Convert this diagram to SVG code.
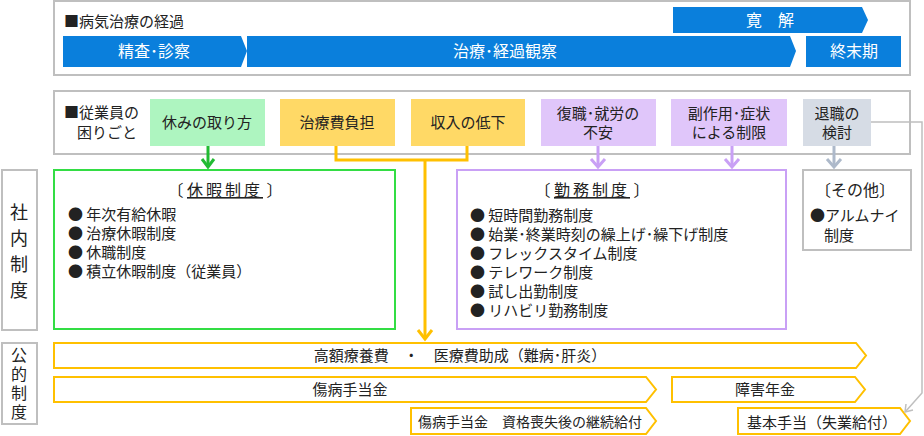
<svg xmlns="http://www.w3.org/2000/svg" width="924" height="436" viewBox="0 0 924 436">
<style>
text{font-family:"Noto Sans CJK JP","Noto Sans",sans-serif;font-size:15px;fill:#222}
.w{fill:#fff;font-size:16px}
.s{font-size:18px}
.s2{font-size:16px}
.frame{fill:#fff;stroke:#bfbfbf;stroke-width:2}
.blue{fill:#0a7fdc}
.ob{fill:#fff;stroke:#ffc000;stroke-width:2}
.m{text-anchor:middle}
</style>
<rect width="924" height="436" fill="#fff"/>
<g id="course">
<rect class="frame" x="54" y="1" width="856" height="74"/>
<text x="64" y="27">■病気治療の経過</text>
<polygon class="blue" points="673,7 862,7 868,20 862,33 673,33"/>
<text class="w m" x="770" y="26">寛　解</text>
<polygon class="blue" points="63,36 241,36 247,51 241,67 63,67"/>
<text class="w m" x="154" y="57">精査･診察</text>
<polygon class="blue" points="247,36 790,36 796,51 790,67 247,67"/>
<text class="w m" x="505" y="57">治療･経過観察</text>
<rect class="blue" x="806" y="36" width="95" height="31"/>
<text class="w m" x="854" y="57">終末期</text>
</g>
<g id="troubles">
<rect class="frame" x="54" y="91" width="856" height="63"/>
<text x="64" y="118">■従業員の</text>
<text x="77" y="138">困りごと</text>
<g id="t1"><rect x="150" y="99" width="115" height="47" fill="#aef5c0"/><text class="m" x="207" y="128">休みの取り方</text></g>
<g id="t2"><rect x="280" y="99" width="115" height="47" fill="#ffd966"/><text class="m" x="337" y="128">治療費負担</text></g>
<g id="t3"><rect x="411" y="99" width="114" height="47" fill="#ffd966"/><text class="m" x="468" y="128">収入の低下</text></g>
<g id="t4"><rect x="541" y="99" width="115" height="47" fill="#e0c6fa"/><text class="m" x="598" y="119">復職･就労の</text><text class="m" x="598" y="138">不安</text></g>
<g id="t5"><rect x="671" y="99" width="116" height="47" fill="#e0c6fa"/><text class="m" x="729" y="119">副作用･症状</text><text class="m" x="729" y="138">による制限</text></g>
<g id="t6"><rect x="803" y="99" width="68" height="47" fill="#d6dce5"/><text class="m" x="837" y="119">退職の</text><text class="m" x="837" y="138">検討</text></g>
</g>
<g id="side">
<rect class="frame" x="2" y="170" width="35" height="160"/>
<text class="m s" x="19" y="219">社</text><text class="m s" x="19" y="245">内</text><text class="m s" x="19" y="271">制</text><text class="m s" x="19" y="297">度</text>
<rect class="frame" x="2" y="343" width="35" height="81"/>
<text class="m s2" x="19" y="361">公</text><text class="m s2" x="19" y="380">的</text><text class="m s2" x="19" y="399">制</text><text class="m s2" x="19" y="418">度</text>
</g>
<g id="leave">
<rect x="54" y="170" width="341" height="159" fill="#fff" stroke="#33dd44" stroke-width="2"/>
<text class="m" x="225" y="196" style="font-size:16px">〔 <tspan text-decoration="underline" letter-spacing="3">休暇制度</tspan> 〕</text>
<text x="68" y="220">● 年次有給休暇</text>
<text x="68" y="239">● 治療休暇制度</text>
<text x="68" y="258">● 休職制度</text>
<text x="68" y="277">● 積立休暇制度（従業員）</text>
</g>
<g id="work">
<rect x="457" y="170" width="329" height="159" fill="#fff" stroke="#c9a0f5" stroke-width="2"/>
<text class="m" x="592" y="196" style="font-size:16px">〔 <tspan text-decoration="underline" letter-spacing="3">勤務制度</tspan> 〕</text>
<text x="470" y="221">● 短時間勤務制度</text>
<text x="470" y="240">● 始業･終業時刻の繰上げ･繰下げ制度</text>
<text x="470" y="259">● フレックスタイム制度</text>
<text x="470" y="278">● テレワーク制度</text>
<text x="470" y="297">● 試し出勤制度</text>
<text x="470" y="316">● リハビリ勤務制度</text>
</g>
<g id="other">
<rect x="803" y="170" width="108" height="80" fill="#fff" stroke="#bfbfbf" stroke-width="2"/>
<text x="815" y="196" style="font-size:16px">〔その他〕</text>
<text x="810" y="221">●アルムナイ</text>
<text x="824" y="241">制度</text>
</g>
<g id="public">
<g><polygon class="ob" points="54,343 856,343 866,355.5 856,368 54,368"/><text class="m" x="460" y="361">高額療養費　・　医療費助成（難病･肝炎）</text></g>
<g><polygon class="ob" points="54,377 646,377 656,389.5 646,402 54,402"/><text class="m" x="350" y="395">傷病手当金</text></g>
<g><polygon class="ob" points="672,377 855,377 865,389.5 855,402 672,402"/><text class="m" x="765" y="395">障害年金</text></g>
<g><polygon class="ob" points="411,408 646,408 656,421 646,434 411,434"/><text class="m" x="530" y="427" style="font-size:14px">傷病手当金　資格喪失後の継続給付</text></g>
<g><polygon class="ob" points="738,408 900,408 910,421 900,434 738,434"/><text class="m" x="822" y="428">基本手当（失業給付）</text></g>
</g>
<g id="connectors" fill="none" stroke-width="3">
<path d="M208,146 V167" stroke="#22bb33"/><path d="M202,159 L208,167 L214,159" stroke="#22bb33"/>
<path d="M336,146 V160 H467 V146 M425,160 V339" stroke="#ffc000"/><path d="M418,330 L425,339 L432,330" stroke="#ffc000"/>
<path d="M598,146 V167 M732,146 V167" stroke="#c9a0f5"/><path d="M591,159 L598,167 L605,159 M725,159 L732,167 L739,159" stroke="#c9a0f5"/>
<path d="M834,146 V167" stroke="#adb9ca"/><path d="M827,159 L834,167 L841,159" stroke="#adb9ca"/>
<path d="M871,122 H922 V393 L906,411" stroke="#bfbfbf" stroke-width="1.5"/><path d="M906,404 L905,412 L913,410" stroke="#bfbfbf" stroke-width="1.5"/>
</g>
</svg>
